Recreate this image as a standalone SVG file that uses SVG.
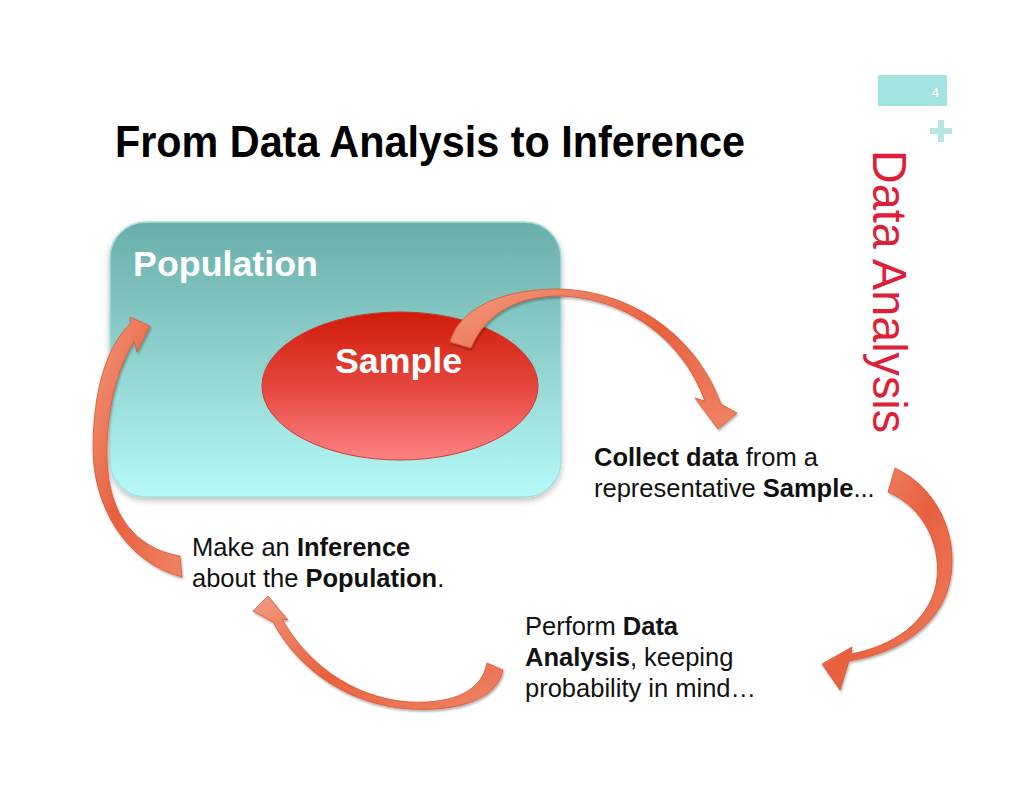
<svg xmlns="http://www.w3.org/2000/svg" width="1024" height="791" viewBox="0 0 1024 791">
  <defs>
    <linearGradient id="popGrad" x1="0" y1="0" x2="0" y2="1">
      <stop offset="0" stop-color="#6aaeaa"/>
      <stop offset="0.5" stop-color="#8fd2ce"/>
      <stop offset="1" stop-color="#b6faf8"/>
    </linearGradient>
    <linearGradient id="sampGrad" x1="0" y1="0" x2="0" y2="1">
      <stop offset="0" stop-color="#d01c08"/>
      <stop offset="0.5" stop-color="#e5463e"/>
      <stop offset="1" stop-color="#ff8282"/>
    </linearGradient>
    <linearGradient id="arrowGrad" x1="0" y1="0" x2="1" y2="1">
      <stop offset="0" stop-color="#f39a80"/>
      <stop offset="0.5" stop-color="#e8603f"/>
      <stop offset="1" stop-color="#ef8466"/>
    </linearGradient>
    <filter id="shadow" x="-10%" y="-10%" width="120%" height="125%">
      <feDropShadow dx="0" dy="3" stdDeviation="3" flood-color="#000" flood-opacity="0.25"/>
    </filter>
    <filter id="ashadow" x="-10%" y="-10%" width="130%" height="130%">
      <feDropShadow dx="1" dy="2" stdDeviation="1.2" flood-color="#000" flood-opacity="0.3"/>
    </filter>
  </defs>
  <style>
    .body { font-family: "Liberation Sans", Arial, sans-serif; font-size: 25.5px; fill: #111; }
    .b { font-weight: bold; }
    .arrow { fill: url(#arrowGrad); stroke: #d9552f; stroke-width: 0.8; filter: url(#ashadow); }
    .white { font-family: "Liberation Sans", Arial, sans-serif; font-weight: bold; fill: #fff; }
  </style>
  <rect width="1024" height="791" fill="#fff"/>

  <g id="header">
    <rect x="878" y="75" width="69" height="31" fill="#a3e3df"/>
    <text x="939" y="97" font-family="Liberation Sans, Arial, sans-serif" font-size="13" fill="#fff" text-anchor="end">4</text>
    <rect x="930" y="128" width="22" height="6" fill="#b6e5e3"/>
    <rect x="938" y="120" width="6" height="22" fill="#b6e5e3"/>
    <text transform="translate(873,150) rotate(90)" font-family="Liberation Sans, Arial, sans-serif" font-size="48" fill="#dd1f3a" textLength="283" lengthAdjust="spacingAndGlyphs">Data Analysis</text>
    <text x="115" y="157" font-family="Liberation Sans, Arial, sans-serif" font-size="44" font-weight="bold" fill="#000" textLength="630" lengthAdjust="spacingAndGlyphs">From Data Analysis to Inference</text>
  </g>

  <g id="population">
    <rect x="110" y="222" width="451" height="275" rx="36" ry="36" fill="url(#popGrad)" stroke="#a9dcd9" stroke-width="1.5" filter="url(#shadow)"/>
    <text class="white" x="133" y="276" font-size="35" textLength="185" lengthAdjust="spacingAndGlyphs">Population</text>
  </g>

  <g id="sample">
    <ellipse cx="400" cy="386" rx="138" ry="74" fill="url(#sampGrad)" stroke="#c83a36" stroke-width="1"/>
    <text class="white" x="335" y="373" font-size="35" textLength="127" lengthAdjust="spacingAndGlyphs">Sample</text>
  </g>

  <g id="connectors">
    <path class="arrow" d="M 450,342 C 458,312 495,290 555,289 C 625,289 694,330 721,404 L 737,413 L 718,429 L 695,398 L 705,401 C 682,338 625,298 560,296 C 515,296 485,315 471,348 Z"/>
    <path class="arrow" d="M 895,468 C 938,488 957,535 951,575 C 945,620 905,652 849,661 L 840,690 L 822,664 L 852,647 L 851,654 C 893,646 928,622 936,585 C 943,548 925,508 888,492 Z"/>
    <path class="arrow" d="M 503,670 C 498,698 460,712 410,709 C 350,705 300,672 273,622 L 253,611 L 268,596 L 288,620 L 282,619 C 305,660 350,698 410,702 C 455,704 482,690 487,663 Z"/>
    <path class="arrow" d="M 182,577 C 125,562 92,505 93,445 C 94,385 108,345 131,323 L 130,317 L 150,326 L 137,352 L 134,341 C 117,370 106,410 107,460 C 109,515 135,548 180,556 Z"/>
  </g>

  <g id="step-collect">
    <text class="body" x="594" y="466"><tspan class="b">Collect data</tspan> from a</text>
    <text class="body" x="594" y="497">representative <tspan class="b">Sample</tspan>...</text>
  </g>
  <g id="step-infer">
    <text class="body" x="192" y="556">Make an <tspan class="b">Inference</tspan></text>
    <text class="body" x="192" y="587">about the <tspan class="b">Population</tspan>.</text>
  </g>
  <g id="step-analyze">
    <text class="body" x="525" y="635">Perform <tspan class="b">Data</tspan></text>
    <text class="body" x="525" y="666"><tspan class="b">Analysis</tspan>, keeping</text>
    <text class="body" x="525" y="697">probability in mind…</text>
  </g>
</svg>
